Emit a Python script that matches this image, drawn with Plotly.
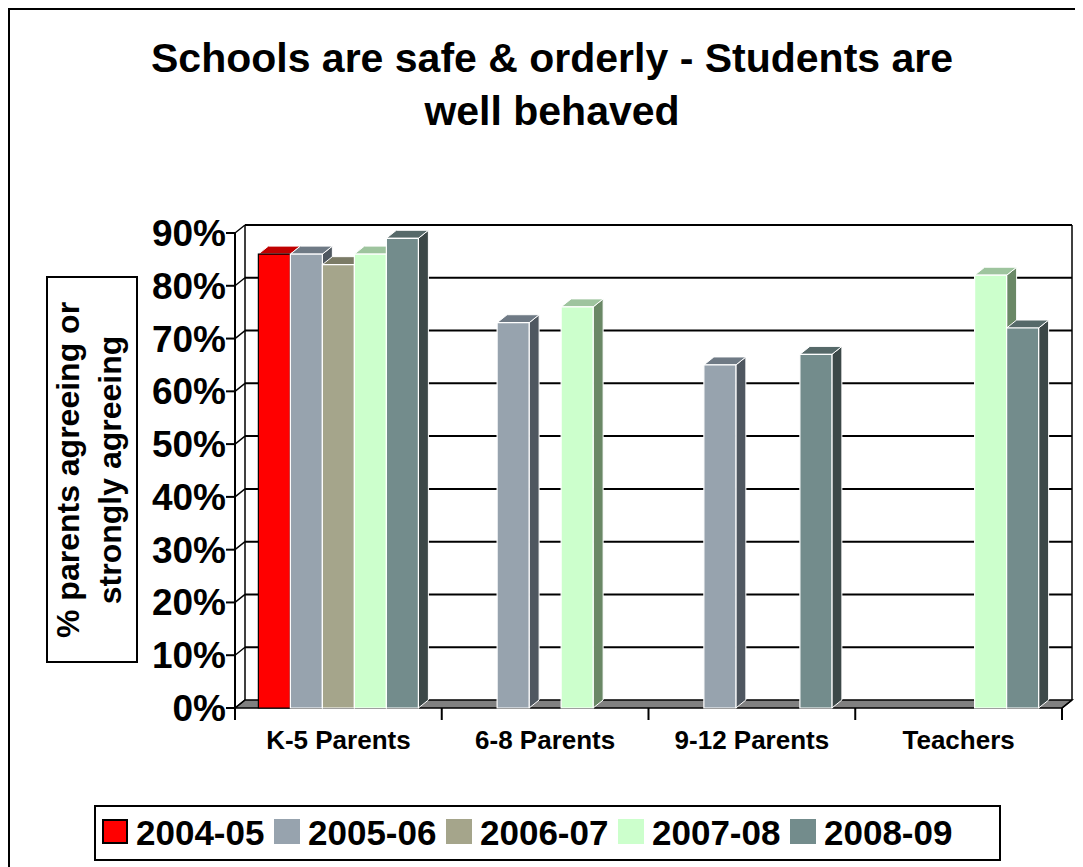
import plotly.graph_objects as go

# ---------------- data ----------------
categories = ["K-5 Parents", "6-8 Parents", "9-12 Parents", "Teachers"]
years = ["2004-05", "2005-06", "2006-07", "2007-08", "2008-09"]
v_2004_05 = [86, None, None, None]
v_2005_06 = [86, 73, 65, None]
v_2006_07 = [84, None, None, None]
v_2007_08 = [86, 76, None, 82]
v_2008_09 = [89, None, 67, 72]
y_ticks = [0, 10, 20, 30, 40, 50, 60, 70, 80, 90]
y_ticktext = [f"{v}%" for v in y_ticks]

series = [v_2004_05, v_2005_06, v_2006_07, v_2007_08, v_2008_09]
front_cols = ["#FF0000", "#97A3AE", "#A5A58B", "#CCFFCC", "#738C8C"]
top_cols = ["#C00000", "#6F7A85", "#7B7B66", "#9EC49E", "#566969"]
side_cols = ["#800000", "#4F5760", "#5C5C4C", "#6A8866", "#3C4848"]
edge_cols = ["#000000", "#FFFFFF", "#FFFFFF", "#FFFFFF", "#FFFFFF"]

FONT = "Liberation Sans, Arial, Helvetica, sans-serif"

# ---------------- geometry (reference-page pixels) ----------------
OFF = 8                                # page body margin
W, H = 1083 - OFF, 867 - OFF
AX_L, AX_R_FRONT, AX_R = 235, 1062, 1076   # front axis, front-right end, plot right
Y0_PX, Y90_PX, TOP_PX, BOT_PX = 708, 233, 219, 711
ML = (AX_L - 2) - OFF
MR = 1083 - AX_R
MT = TOP_PX - OFF
MB = 867 - BOT_PX
PW, PH = W - ML - MR, H - MT - MB
X_UNIT = (AX_R_FRONT - AX_L) / 4.0
Y_UNIT = (Y0_PX - Y90_PX) / 90.0
XMIN = -0.5 - 2 / X_UNIT
XMAX = XMIN + PW / X_UNIT
YMIN = -(BOT_PX - Y0_PX) / Y_UNIT
YMAX = YMIN + PH / Y_UNIT
DX = 10 / X_UNIT
DY = 8 / Y_UNIT
BARGAP = 0.226
NS = len(series)
BW = (1 - BARGAP) / NS


def px_x(px):
    return (px - OFF - ML) / PW


def px_y(py):
    return ((H - MB) - (py - OFF)) / PH


fig = go.Figure()
for i, (name, vals) in enumerate(zip(years, series)):
    fig.add_trace(go.Bar(
        x=list(range(len(categories))), y=vals, name=name,
        marker=dict(color=front_cols[i], line=dict(color=edge_cols[i], width=1.2)),
        showlegend=False, hoverinfo="skip",
    ))

shapes = []
x0w, x1w = -0.5, len(categories) - 0.5
# floor
shapes.append(dict(type="path", xref="x", yref="y", layer="below",
                   path=f"M {x0w},0 L {x1w},0 L {x1w+DX},{DY} L {x0w+DX},{DY} Z",
                   fillcolor="#808080", line=dict(color="black", width=1.5)))
# back wall gridlines + left wall diagonals
for v in y_ticks[1:]:
    shapes.append(dict(type="line", xref="x", yref="y", layer="below",
                       x0=x0w + DX, x1=x1w + DX, y0=v + DY, y1=v + DY,
                       line=dict(color="black", width=2)))
for v in y_ticks:
    shapes.append(dict(type="line", xref="x", yref="y", layer="below",
                       x0=x0w, x1=x0w + DX, y0=v, y1=v + DY,
                       line=dict(color="black", width=1.5)))
# wall edges
top = y_ticks[-1]
shapes.append(dict(type="line", xref="x", yref="y", layer="below",
                   x0=x0w + DX, x1=x0w + DX, y0=DY, y1=top + DY, line=dict(color="black", width=1.5)))
shapes.append(dict(type="line", xref="x", yref="y", layer="below",
                   x0=x1w + DX, x1=x1w + DX, y0=DY, y1=top + DY, line=dict(color="black", width=1.5)))
shapes.append(dict(type="line", xref="x", yref="y", layer="below",
                   x0=x1w, x1=x1w + DX, y0=0, y1=DY, line=dict(color="black", width=1.5)))
# front value axis line
shapes.append(dict(type="line", xref="x", yref="y", layer="above",
                   x0=x0w, x1=x0w, y0=0, y1=top, line=dict(color="black", width=2)))
# value-axis tick marks
for v in y_ticks:
    shapes.append(dict(type="line", xref="paper", yref="y", layer="above",
                       x0=px_x(AX_L - 9), x1=px_x(AX_L), y0=v, y1=v,
                       line=dict(color="black", width=2)))
# category dividers
for k in range(len(categories) + 1):
    shapes.append(dict(type="line", xref="x", yref="paper", layer="above",
                       x0=k - 0.5, x1=k - 0.5, y0=px_y(708), y1=px_y(720),
                       line=dict(color="black", width=2)))

# 3D faces (side + top) for each bar, painted left to right
for c in range(len(categories)):
    for i, vals in enumerate(series):
        h = vals[c]
        if h is None:
            continue
        L = c + (i - NS / 2) * BW
        R = L + BW
        shapes.append(dict(type="path", xref="x", yref="y", layer="below",
                           path=f"M {R},0 L {R},{h} L {R+DX},{h+DY} L {R+DX},{DY} Z",
                           fillcolor=side_cols[i], line=dict(color="white", width=1)))
        shapes.append(dict(type="path", xref="x", yref="y", layer="below",
                           path=f"M {L},{h} L {R},{h} L {R+DX},{h+DY} L {L+DX},{h+DY} Z",
                           fillcolor=top_cols[i], line=dict(color="white", width=1)))

# outer chart border (bottom edge lies below the visible page)
shapes.append(dict(type="rect", xref="paper", yref="paper", layer="above",
                   x0=px_x(9), x1=px_x(1077), y0=px_y(900), y1=px_y(9),
                   line=dict(color="black", width=2), fillcolor="rgba(0,0,0,0)"))
# y-axis title box
shapes.append(dict(type="rect", xref="paper", yref="paper", layer="above",
                   x0=px_x(47), x1=px_x(137), y0=px_y(662), y1=px_y(277),
                   line=dict(color="black", width=2), fillcolor="rgba(0,0,0,0)"))
# legend box
shapes.append(dict(type="rect", xref="paper", yref="paper", layer="above",
                   x0=px_x(95), x1=px_x(1000), y0=px_y(860), y1=px_y(806),
                   line=dict(color="black", width=2), fillcolor="rgba(0,0,0,0)"))

annotations = []
# legend entries
for i, name in enumerate(years):
    sx = 103 + 172 * i
    shapes.append(dict(type="rect", xref="paper", yref="paper", layer="above",
                       x0=px_x(sx), x1=px_x(sx + 24), y0=px_y(843), y1=px_y(820),
                       fillcolor=front_cols[i],
                       line=dict(color=edge_cols[i] if i == 0 else front_cols[i], width=2)))
    annotations.append(dict(xref="paper", yref="paper", x=px_x(sx + 31), y=px_y(832),
                            xanchor="left", yanchor="middle", showarrow=False,
                            text=f"<b>{name}</b>", font=dict(family=FONT, size=35, color="black")))

# title
annotations.append(dict(xref="paper", yref="paper", x=px_x(552), y=px_y(84),
                        xanchor="center", yanchor="middle", showarrow=False,
                        text="<b>Schools are safe & orderly - Students are<br>well behaved</b>",
                        font=dict(family=FONT, size=41, color="black")))
# y axis title
annotations.append(dict(xref="paper", yref="paper", x=px_x(89), y=px_y(470),
                        xanchor="center", yanchor="middle", showarrow=False, textangle=-90,
                        text="<b>% parents agreeing or<br>strongly agreeing</b>",
                        font=dict(family=FONT, size=32, color="black")))

fig.update_layout(
    width=W, height=H, autosize=False,
    margin=dict(l=ML, r=MR, t=MT, b=MB, pad=0),
    paper_bgcolor="white", plot_bgcolor="white",
    barmode="group", bargap=BARGAP, bargroupgap=0,
    showlegend=False,
    shapes=shapes, annotations=annotations,
    xaxis=dict(range=[XMIN, XMAX], tickvals=list(range(len(categories))),
               ticktext=[f"<b>{t}</b>" for t in categories],
               showgrid=False, zeroline=False, showline=False,
               ticks="outside", ticklen=6, tickcolor="rgba(0,0,0,0)",
               tickfont=dict(family=FONT, size=26, color="black"), fixedrange=True),
    yaxis=dict(range=[YMIN, YMAX], tickvals=y_ticks, ticktext=[f"<b>{t}</b>" for t in y_ticktext],
               showgrid=False, zeroline=False, showline=False,
               ticks="", ticklabelstandoff=6,
               tickfont=dict(family=FONT, size=37, color="black"), fixedrange=True),
)

fig.write_html("out.html")
